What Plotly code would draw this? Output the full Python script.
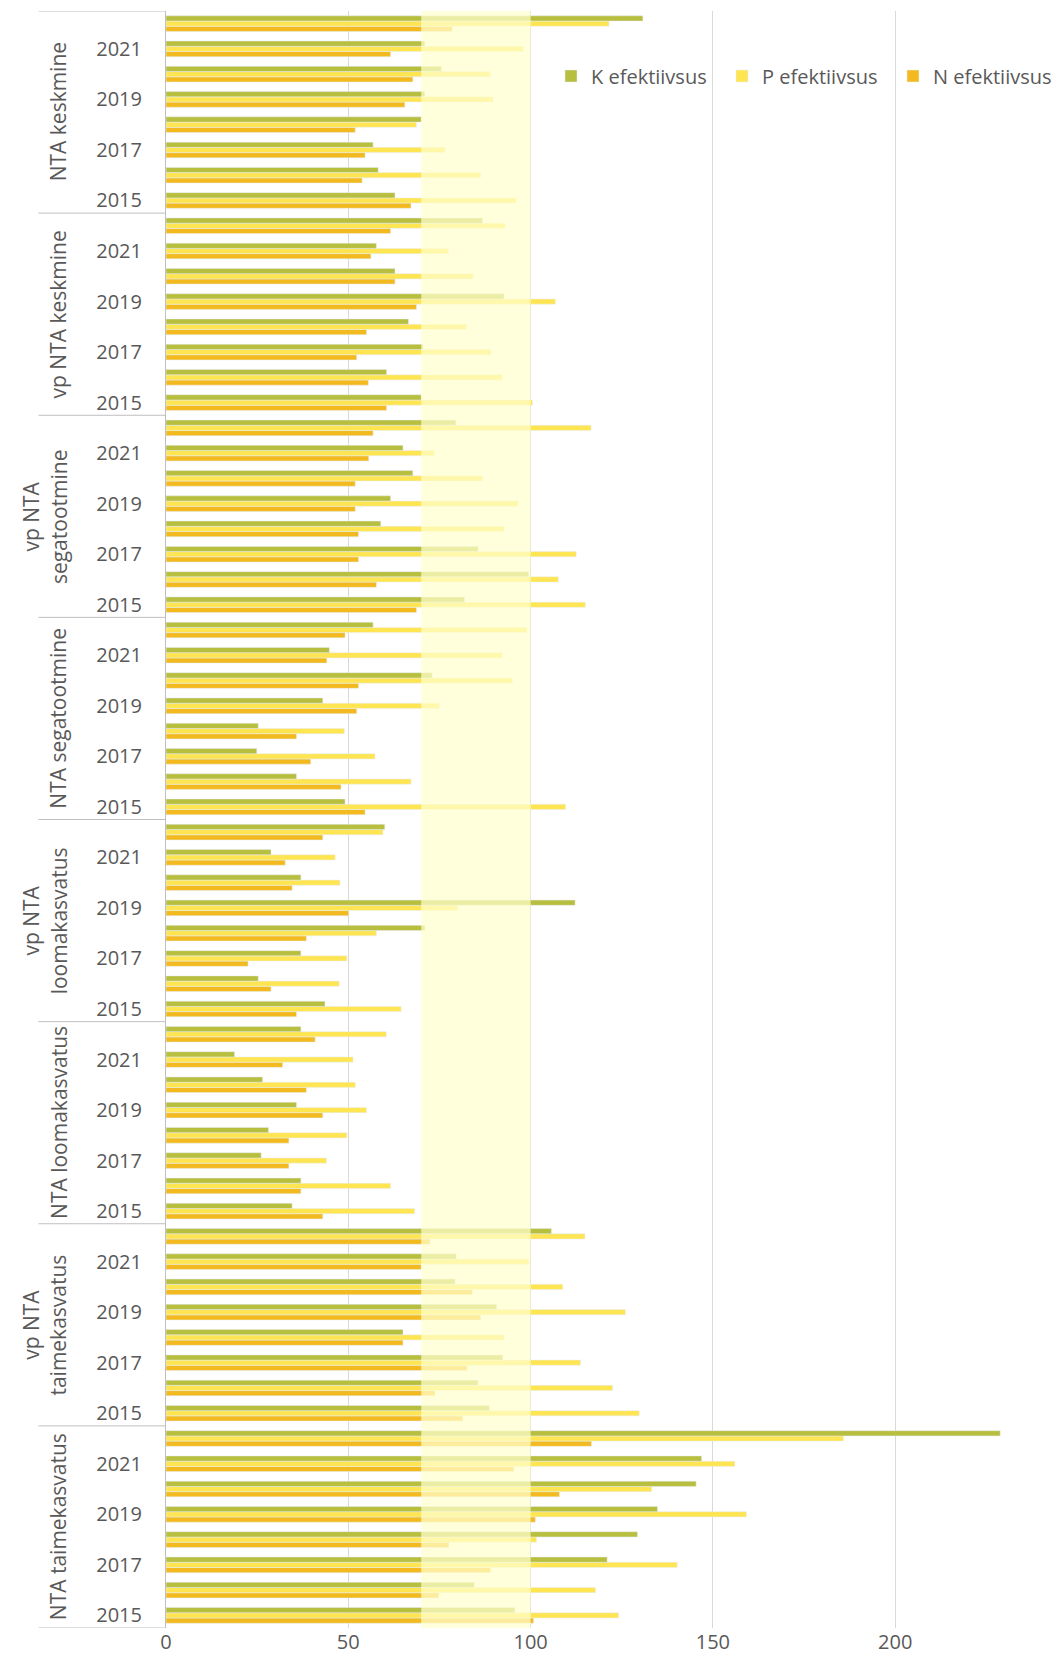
import plotly.graph_objects as go

years = [2015, 2016, 2017, 2018, 2019, 2020, 2021, 2022]
# groups listed top to bottom as in the chart
groups = ["NTA keskmine", "vp NTA keskmine", "vp NTA segatootmine", "NTA segatootmine",
          "vp NTA loomakasvatus", "NTA loomakasvatus", "vp NTA taimekasvatus", "NTA taimekasvatus"]
group_labels = ["NTA keskmine", "vp NTA keskmine", "vp NTA<br>segatootmine", "NTA segatootmine",
                "vp NTA<br>loomakasvatus", "NTA loomakasvatus", "vp NTA<br>taimekasvatus", "NTA taimekasvatus"]

# values per group, years 2015..2022
K_eff = {
    "NTA keskmine":          [62.8, 58.2, 56.8, 70, 71, 75.5, 71, 130.8],
    "vp NTA keskmine":       [70, 60.5, 70.5, 66.5, 92.7, 62.8, 57.7, 86.8],
    "vp NTA segatootmine":   [81.9, 99.5, 85.6, 58.9, 61.6, 67.7, 65, 79.5],
    "NTA segatootmine":      [49.1, 35.8, 24.9, 25.3, 43, 73, 44.8, 56.8],
    "vp NTA loomakasvatus":  [43.6, 25.3, 37, 71, 112.2, 37, 28.8, 60],
    "NTA loomakasvatus":     [34.6, 37, 26.1, 28.1, 35.8, 26.5, 18.8, 37],
    "vp NTA taimekasvatus":  [88.7, 85.6, 92.4, 65, 90.7, 79.3, 79.6, 105.7],
    "NTA taimekasvatus":     [95.7, 84.6, 121, 129.3, 134.8, 145.4, 146.9, 228.8],
}
P_eff = {
    "NTA keskmine":          [96, 86.3, 76.5, 68.7, 89.7, 89, 98, 121.5],
    "vp NTA keskmine":       [100.5, 92.2, 89.2, 82.4, 106.8, 84.3, 77.5, 93],
    "vp NTA segatootmine":   [115, 107.6, 112.5, 92.7, 96.6, 86.8, 73.6, 116.6],
    "NTA segatootmine":      [109.6, 67.2, 57.3, 48.9, 75, 95, 92.2, 99],
    "vp NTA loomakasvatus":  [64.5, 47.5, 49.6, 57.7, 80, 47.7, 46.4, 59.5],
    "NTA loomakasvatus":     [68.2, 61.6, 44, 49.6, 55, 51.9, 51.3, 60.4],
    "vp NTA taimekasvatus":  [129.8, 122.5, 113.7, 92.7, 126, 108.8, 99.5, 114.9],
    "NTA taimekasvatus":     [124.1, 117.8, 140.2, 101.6, 159.2, 133.2, 156, 185.8],
}
N_eff = {
    "NTA keskmine":          [67.2, 53.8, 54.6, 51.9, 65.5, 67.7, 61.6, 78.5],
    "vp NTA keskmine":       [60.5, 55.5, 52.3, 55, 68.7, 62.8, 56.2, 61.6],
    "vp NTA segatootmine":   [68.7, 57.7, 52.8, 52.8, 51.9, 51.9, 55.6, 56.8],
    "NTA segatootmine":      [54.6, 48, 39.7, 35.8, 52.3, 52.8, 44.1, 49.1],
    "vp NTA loomakasvatus":  [35.8, 28.8, 22.5, 38.5, 50.1, 34.6, 32.7, 43],
    "NTA loomakasvatus":     [43, 37, 33.7, 33.7, 43, 38.5, 32, 40.9],
    "vp NTA taimekasvatus":  [81.4, 73.8, 82.6, 65, 86.3, 84, 70, 72.4],
    "NTA taimekasvatus":     [100.8, 74.8, 89, 77.6, 101.3, 107.9, 95.4, 116.7],
}
band_low, band_high = 70, 100
labeled_years = [2015, 2017, 2019, 2021]

COL_K = "#B8BE3E"
COL_P = "#FFE552"
COL_N = "#F2BA1E"
FONT = "Open Sans"
TXT = "#595959"

bottom_up = list(reversed(groups))
cats, kv, pv, nv = [], [], [], []
for g in bottom_up:
    for i, yr in enumerate(years):
        cats.append(f"{g} {yr}")
        kv.append(K_eff[g][i]); pv.append(P_eff[g][i]); nv.append(N_eff[g][i])

fig = go.Figure()
fig.add_trace(go.Bar(y=cats, x=nv, orientation="h", name="N efektiivsus", marker_color=COL_N))
fig.add_trace(go.Bar(y=cats, x=pv, orientation="h", name="P efektiivsus", marker_color=COL_P))
fig.add_trace(go.Bar(y=cats, x=kv, orientation="h", name="K efektiivsus", marker_color=COL_K))

tickvals = [f"{g} {yr}" for g in bottom_up for yr in labeled_years]
ticktext = [str(yr) for g in bottom_up for yr in labeled_years]

shapes = [dict(type="rect", xref="x", yref="paper", x0=band_low, x1=band_high, y0=0, y1=1,
               fillcolor="rgba(255,255,205,0.72)", line_width=0, layer="above")]
n = len(years)
for gi in range(len(groups) + 1):
    yb = gi * n - 0.5
    shapes.append(dict(type="line", xref="paper", yref="y", x0=-0.142, x1=0, y0=yb, y1=yb,
                       line=dict(color="#BFBFBF", width=1)))

annotations = []
for gi, g in enumerate(bottom_up):
    lab = group_labels[groups.index(g)]
    two = "<br>" in lab
    annotations.append(dict(xref="paper", yref="y", x=-0.135 if two else -0.12, y=gi * n + (n - 1) / 2,
                            text=lab, textangle=-90, showarrow=False, xanchor="center", yanchor="middle",
                            font=dict(family=FONT, size=21, color=TXT)))

fig.update_layout(
    width=1056, height=1656,
    margin=dict(l=158, r=0, t=3, b=36),
    paper_bgcolor="white", plot_bgcolor="white",
    barmode="group", bargap=0.38, bargroupgap=0,
    font=dict(family=FONT, size=20, color=TXT),
    shapes=shapes, annotations=annotations,
    legend=dict(orientation="h", traceorder="reversed", x=1, y=0.9598, xanchor="right", yanchor="middle",
                bgcolor="rgba(0,0,0,0)", font=dict(family=FONT, size=20, color=TXT),
                itemwidth=30, entrywidth=126, entrywidthmode="pixels"),
    xaxis=dict(range=[0, 246.3], tickvals=[0, 50, 100, 150, 200], showgrid=True, gridcolor="#D9D9D9",
               zeroline=False, showline=False, tickfont=dict(size=20, color=TXT), fixedrange=True),
    yaxis=dict(type="category", categoryorder="array", categoryarray=cats, tickvals=tickvals,
               ticktext=ticktext, showgrid=False, showline=True, linecolor="#BFBFBF",
               ticks="", ticklabelstandoff=19, tickfont=dict(size=20, color=TXT),
               range=[-0.5, len(cats) - 0.5]),
)
fig.write_html("out.html")
